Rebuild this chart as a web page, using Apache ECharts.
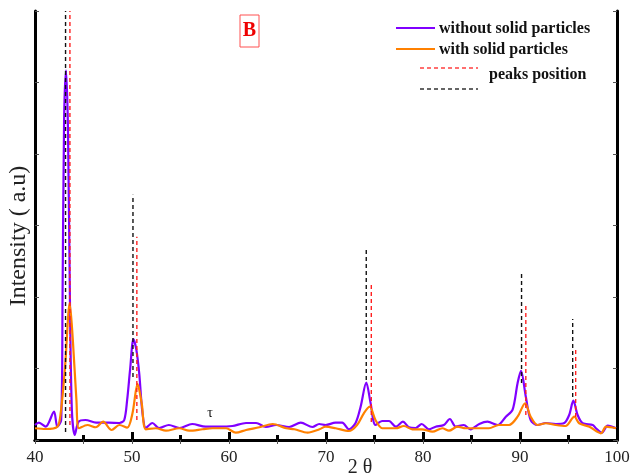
<!DOCTYPE html>
<html>
<head>
<meta charset="utf-8">
<script src="https://cdn.jsdelivr.net/npm/echarts@6/dist/echarts.min.js"></script>
<style>
  html, body { margin: 0; padding: 0; background: #fff; }
  #chart { width: 632px; height: 475px; }
</style>
</head>
<body>
<div id="chart"></div>
<script>
// XRD pattern: 2θ (degrees) against intensity (a.u.)
const thetaWithout = [40.0, 40.4, 41.1, 41.96, 42.3, 42.7, 42.84, 43.0, 43.2, 43.4, 43.6, 43.8, 44.1, 44.5, 45.2, 46.3, 47.6, 48.7, 49.2, 49.5, 49.8, 50.15, 50.45, 50.74, 51.08, 51.43, 52.1, 52.8, 53.8, 54.9, 56.2, 57.6, 59.0, 60.35, 61.76, 62.8, 63.8, 64.86, 66.2, 67.4, 68.6, 69.3, 69.95, 70.98, 71.67, 72.36, 73.05, 73.57, 74.15, 74.6, 75.1, 75.8, 76.5, 77.2, 77.93, 78.55, 79.25, 79.86, 80.6, 81.3, 82.15, 82.77, 83.37, 84.2, 84.9, 85.8, 86.65, 87.7, 88.54, 89.23, 89.75, 90.1, 90.6, 91.1, 91.8, 92.67, 93.7, 94.56, 95.07, 95.5, 95.94, 96.46, 97.5, 97.83, 98.45, 99.04, 99.9];
const intensityWithout = [210, 242, 186, 396, 186, 280, 1960, 4480, 5170, 4340, 1960, 420, 70, 256, 280, 242, 242, 238, 280, 560, 980, 1410, 1260, 938, 378, 168, 238, 168, 210, 168, 224, 186, 186, 196, 238, 238, 182, 210, 182, 242, 182, 224, 210, 242, 242, 150, 238, 466, 802, 514, 210, 266, 266, 186, 256, 178, 168, 224, 150, 186, 210, 294, 186, 210, 150, 224, 256, 210, 326, 420, 794, 966, 606, 280, 210, 238, 224, 238, 350, 550, 350, 234, 210, 164, 102, 200, 164];

const thetaWith = [40.0, 41.1, 42.3, 42.65, 43.1, 43.58, 43.9, 44.27, 44.54, 45.4, 46.27, 47.02, 47.9, 48.7, 49.5, 50.05, 50.57, 51.0, 51.43, 52.46, 53.5, 54.87, 55.9, 57.28, 58.3, 59.7, 60.7, 61.76, 63.13, 64.5, 65.9, 66.75, 68.1, 69.33, 69.95, 71.0, 72.36, 73.2, 73.9, 74.5, 75.1, 75.8, 77.2, 78.03, 78.9, 79.9, 80.97, 81.99, 82.68, 83.55, 84.4, 85.4, 86.8, 87.8, 88.87, 89.75, 90.53, 91.1, 91.8, 92.67, 93.7, 94.7, 95.6, 96.1, 97.15, 98.35, 98.87, 99.9];
const intensityWith = [164, 154, 186, 378, 1026, 1914, 1400, 560, 164, 210, 178, 256, 140, 210, 172, 374, 784, 514, 150, 164, 130, 164, 130, 150, 164, 164, 102, 140, 178, 224, 164, 150, 102, 150, 186, 164, 126, 210, 374, 466, 280, 164, 164, 196, 150, 150, 116, 164, 130, 186, 164, 164, 164, 210, 210, 326, 514, 326, 210, 234, 210, 196, 326, 234, 186, 94, 186, 164];

// Reference peak positions: [2θ, lower end, upper end]
const peaksBlack = [[43.15, 112, 6000], [50.1, 882, 3430], [74.15, 840, 2674], [90.16, 798, 2338], [95.43, 602, 1694]];
const peaksRed = [[43.6, 210, 6000], [50.5, 280, 2842], [74.67, 252, 2198], [90.6, 350, 1876], [95.74, 322, 1302]];

const xTicks = [40, 50, 60, 70, 80, 90, 100];

const PURPLE = '#8000ff';
const ORANGE = '#ff8000';
const SERIF = '"Liberation Serif", "Times New Roman", serif';

function zip(xs, ys) { return xs.map((x, i) => [x, ys[i]]); }

function peakSeries(list, color) {
  return list.map(p => ({
    type: 'line',
    data: [[p[0], p[1]], [p[0], p[2]]],
    symbol: 'none',
    silent: true,
    z: 5,
    lineStyle: { color: color, width: 1.4, type: [4, 3] }
  }));
}

const chart = echarts.init(document.getElementById('chart'), null, { renderer: 'canvas' });

const axisLine = { show: true, lineStyle: { color: '#000', width: 3 } };

chart.setOption({
  animation: false,
  backgroundColor: '#fff',
  grid: { left: 35, right: 15, top: 11, bottom: 35, containLabel: false, outerBoundsMode: 'none' },
  xAxis: [
    {
      type: 'value', min: 40, max: 100, interval: 10, position: 'bottom',
      axisLine: axisLine,
      axisTick: { show: true, inside: true, length: 8, lineStyle: { width: 3, color: '#000' } },
      minorTick: { show: true, splitNumber: 2, length: 5, lineStyle: { width: 3, color: '#000' } },
      axisLabel: {
        fontFamily: SERIF, fontSize: 17, color: '#222', margin: 9,
        formatter: v => (xTicks.indexOf(v) >= 0 ? String(v) : '')
      },
      splitLine: { show: false }
    },
    {
      type: 'value', min: 40, max: 100, interval: 5, position: 'top',
      axisLine: axisLine,
      axisTick: { show: true, inside: true, length: 4, lineStyle: { width: 1, color: '#555' } },
      axisLabel: { show: false },
      splitLine: { show: false }
    }
  ],
  yAxis: [
    {
      type: 'value', min: 0, max: 6000, interval: 1000, position: 'left',
      axisLine: axisLine,
      axisTick: { show: true, inside: true, length: 4, lineStyle: { width: 1, color: '#555' } },
      axisLabel: { show: false },
      splitLine: { show: false }
    },
    {
      type: 'value', min: 0, max: 6000, interval: 1000, position: 'right',
      axisLine: axisLine,
      axisTick: { show: true, inside: true, length: 4, lineStyle: { width: 1, color: '#555' } },
      axisLabel: { show: false },
      splitLine: { show: false }
    }
  ],
  series: [
    {
      name: 'without solid particles', type: 'line',
      data: zip(thetaWithout, intensityWithout),
      symbol: 'none', smooth: 0.3, z: 3,
      lineStyle: { color: PURPLE, width: 2.2 }
    },
    {
      name: 'with solid particles', type: 'line',
      data: zip(thetaWith, intensityWith),
      symbol: 'none', smooth: 0.3, z: 4,
      lineStyle: { color: ORANGE, width: 2.2 }
    }
  ].concat(peakSeries(peaksBlack, '#111'), peakSeries(peaksRed, '#ff2020')),
  graphic: [
    // axis titles
    { type: 'text', x: 19, y: 236, rotation: Math.PI / 2,
      style: { text: 'Intensity ( a.u)', fill: '#222', font: '24px ' + SERIF, align: 'center', verticalAlign: 'middle' } },
    { type: 'text', x: 360, y: 468,
      style: { text: '2 θ', fill: '#222', font: '20px ' + SERIF, align: 'center', verticalAlign: 'middle' } },
    // panel letter
    { type: 'rect', shape: { x: 240, y: 15, width: 19, height: 32 },
      style: { fill: 'none', stroke: '#ff5050', lineWidth: 1 } },
    { type: 'text', x: 249.5, y: 31,
      style: { text: 'B', fill: '#ee0000', font: 'bold 20px ' + SERIF, align: 'center', verticalAlign: 'middle' } },
    // legend
    { type: 'line', shape: { x1: 396, y1: 28, x2: 435, y2: 28 }, style: { stroke: PURPLE, lineWidth: 2.2 } },
    { type: 'text', x: 439, y: 29,
      style: { text: 'without solid particles', fill: '#111', font: 'bold 16px ' + SERIF, verticalAlign: 'middle' } },
    { type: 'line', shape: { x1: 396, y1: 49, x2: 435, y2: 49 }, style: { stroke: ORANGE, lineWidth: 2.2 } },
    { type: 'text', x: 439, y: 50,
      style: { text: 'with solid particles', fill: '#111', font: 'bold 16px ' + SERIF, verticalAlign: 'middle' } },
    { type: 'line', shape: { x1: 420, y1: 68, x2: 478, y2: 68 },
      style: { stroke: '#ff4040', lineWidth: 1.4, lineDash: [4, 3] } },
    { type: 'line', shape: { x1: 420, y1: 89, x2: 478, y2: 89 },
      style: { stroke: '#333', lineWidth: 1.4, lineDash: [4, 3] } },
    { type: 'text', x: 489, y: 75,
      style: { text: 'peaks position', fill: '#111', font: 'bold 16px ' + SERIF, verticalAlign: 'middle' } },
    // small annotation
    { type: 'text', x: 210, y: 413, z: 10,
      style: { text: 'τ', fill: '#111', font: '14px ' + SERIF, align: 'center', verticalAlign: 'middle' } }
  ]
});
</script>
</body>
</html>
